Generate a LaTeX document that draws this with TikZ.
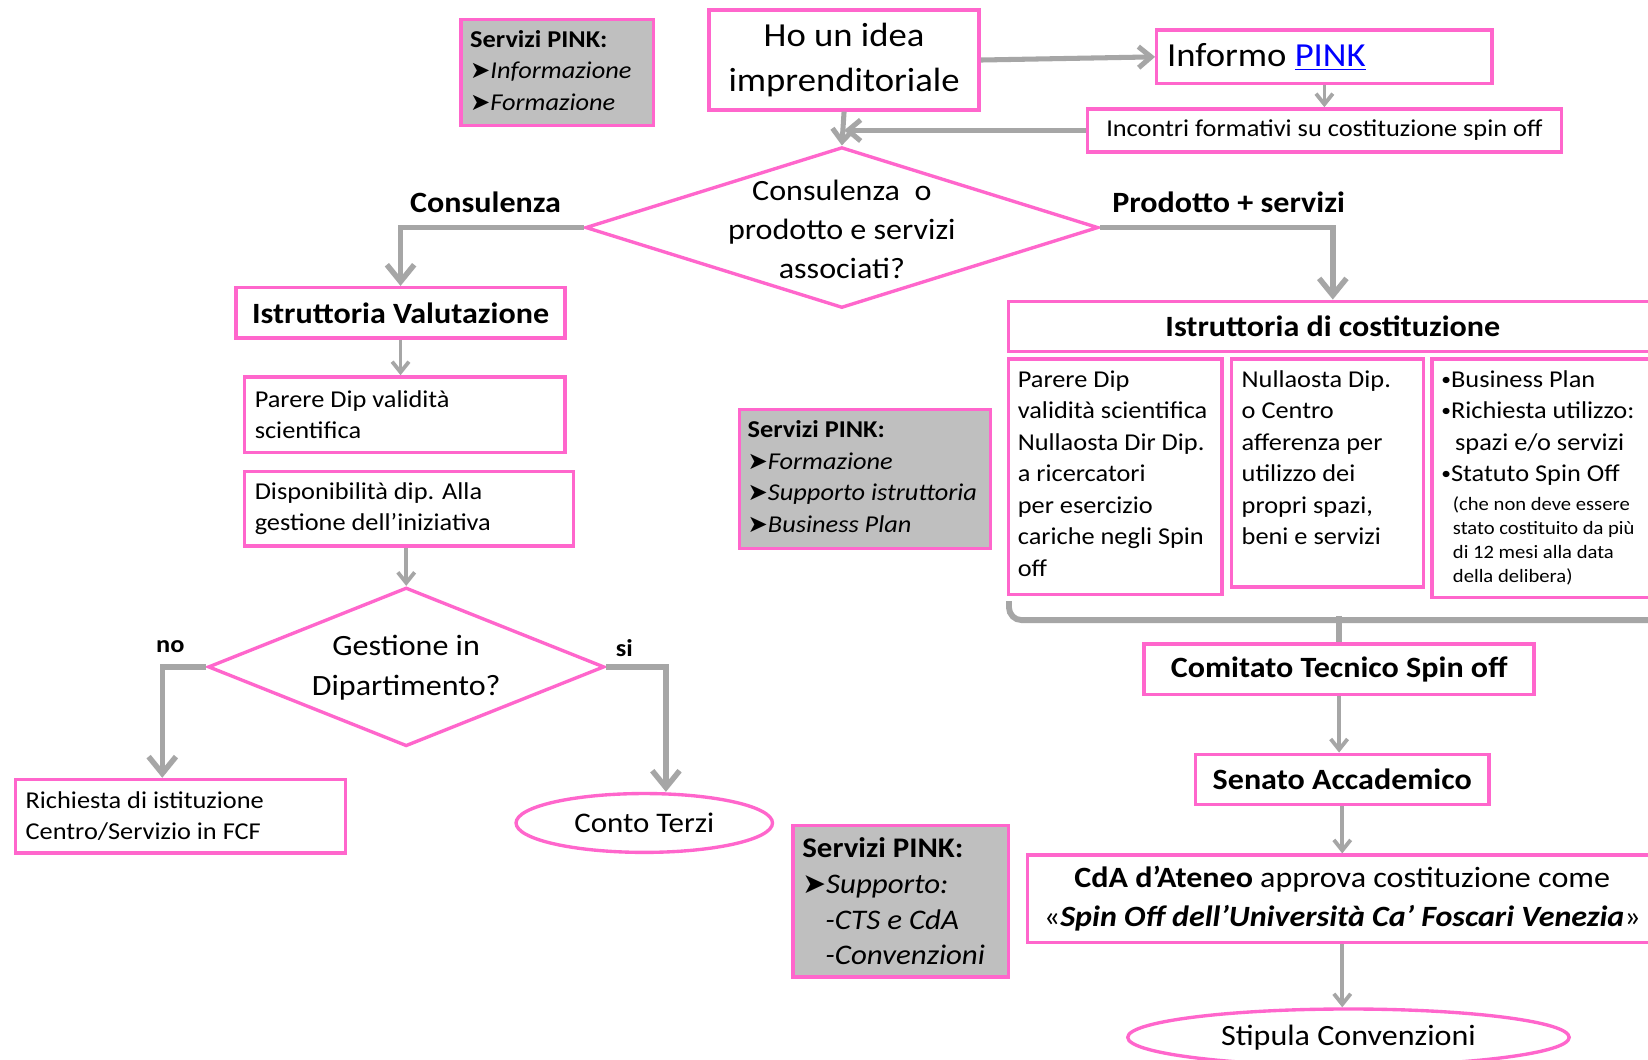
\documentclass[tikz,border=0pt]{standalone}
\usepackage{fontspec}
\setmainfont{Carlito}[FakeStretch=1.09]
\newfontfamily\dejavu[Scale=1.0]{DejaVu Sans}
\usetikzlibrary{shapes.geometric,arrows.meta,calc}
\definecolor{pinkc}{HTML}{FF66CC}
\definecolor{arrgray}{HTML}{A6A6A6}
\definecolor{boxgray}{HTML}{BFBFBF}
\newcommand{\tri}{{\dejavu ➤}}
\newcommand{\bul}{{\fontsize{8.5}{8.5}\selectfont\raisebox{0.9pt}{•}}}
\begin{document}
\begin{tikzpicture}[x=0.5pt,y=-0.5pt,
  box/.style={draw=pinkc,line width=1.6pt,fill=white,inner sep=0pt,anchor=north west},
  gbox/.style={box,fill=boxgray},
  txt/.style={inner sep=0pt,align=left,anchor=west},
  fs/.style={font=\fontsize{11.5}{15}\selectfont},
  fm/.style={font=\fontsize{14}{18.5}\selectfont},
  fb/.style={font=\bfseries\fontsize{14}{18}\selectfont},
  arrbig/.style={draw=arrgray,line width=2.6pt,-{Straight Barb[length=8pt,width=13pt]}},
  arrmid/.style={draw=arrgray,line width=2.4pt,-{Straight Barb[length=6pt,width=10pt]}},
  arrsmall/.style={draw=arrgray,line width=1.8pt,-{Straight Barb[length=5pt,width=8pt]}},
  brk/.style={draw=arrgray,line width=2.8pt,rounded corners=6pt},
]
\useasboundingbox (0,0) rectangle (1568,1008);
\clip (0,0) rectangle (1568,1008);
\fill[white] (0,0) rectangle (1568,1008);

% top-left services box
\node[gbox,minimum width=91.5pt,minimum height=50.5pt] (servA) at (437,17) {};
\node[txt,fs] (servAt) at ([xshift=5pt,yshift=1pt]servA.west) {\textbf{Servizi PINK:}\\\tri\textit{Informazione}\\\tri\textit{Formazione}};

% idea
\node[box,minimum width=128.5pt,minimum height=47.5pt,align=center,font=\fontsize{16}{21}\selectfont] (idea) at (673,8) {Ho un idea\\imprenditoriale};

% informo
\node[box,minimum width=159.5pt,minimum height=25.5pt] (informo) at (1099,27) {};
\node[txt,font=\fontsize{16}{20}\selectfont] (informot) at ([xshift=5.5pt]informo.west) {Informo \textcolor{blue}{\underline{PINK}}};

% incontri
\node[box,minimum width=225.5pt,minimum height=20.5pt,fs] (incontri) at (1033,102) {Incontri formativi su costituzione spin off};

% diamond 1
\node[draw=pinkc,line width=1.6pt,fill=white,diamond,minimum width=244pt,minimum height=76.5pt,inner sep=0pt] (d1) at (801,216.5) {};
\node[align=center,fm,inner sep=0pt] (d1t) at (801,218) {Consulenza\ \ o\\prodotto e servizi\\associati?};

\node[fb,inner sep=0pt] (lblCons) at (462,192) {Consulenza};
\node[fb,inner sep=0pt] (lblProd) at (1169,192) {Prodotto + servizi};

% left branch
\node[box,minimum width=156.5pt,minimum height=24pt,fb] (istrVal) at (223,272) {Istruttoria Valutazione};
\node[box,minimum width=152.5pt,minimum height=36pt] (parere1) at (231,357) {};
\node[txt,fs] (parere1t) at ([xshift=5.5pt]parere1.west) {Parere Dip validità\\scientifica};
\node[box,minimum width=156.5pt,minimum height=35.5pt] (dispon) at (231,447) {};
\node[txt,fs] (dispont) at ([xshift=5.5pt]dispon.west) {Disponibilità dip. Alla\\gestione dell’iniziativa};

\node[draw=pinkc,line width=1.6pt,fill=white,diamond,minimum width=188.5pt,minimum height=75.5pt,inner sep=0pt] (d2) at (386.5,634.5) {};
\node[align=center,font=\fontsize{14}{19}\selectfont,inner sep=0pt] (d2t) at (386.5,635) {Gestione in\\Dipartimento?};

\node[font=\bfseries\fontsize{11.5}{14}\selectfont,inner sep=0pt] (lblNo) at (162,615) {no};
\node[font=\bfseries\fontsize{11.5}{14}\selectfont,inner sep=0pt] (lblSi) at (594,617) {si};

\node[box,minimum width=157pt,minimum height=35pt] (richiesta) at (13,740) {};
\node[txt,fs] (richiestat) at ([xshift=5.5pt]richiesta.west) {Richiesta di istituzione\\Centro/Servizio in FCF};

\node[draw=pinkc,line width=1.6pt,ellipse,minimum width=122pt,minimum height=28pt,inner sep=0pt,font=\fontsize{13.5}{16}\selectfont] (conto) at (613,783) {Conto Terzi};

% middle services box
\node[gbox,minimum width=119.5pt,minimum height=66pt] (servB) at (702,388) {};
\node[txt,fs] (servBt) at ([xshift=4.5pt,yshift=1pt]servB.west) {\textbf{Servizi PINK:}\\\tri\textit{Formazione}\\\tri\textit{Supporto istruttoria}\\\tri\textit{Business Plan}};

% right branch
\node[box,minimum width=308.5pt,minimum height=24pt,fb] (istrCost) at (958,285) {Istruttoria di costituzione};

\node[box,minimum width=101.5pt,minimum height=112pt] (subA) at (958,340) {};
\node[txt,fs,anchor=north west] (subAt) at ([xshift=5pt,yshift=-6pt]subA.north west) {Parere Dip\\validità scientifica\\Nullaosta Dir Dip.\\a ricercatori\\per esercizio\\cariche negli Spin\\off};

\node[box,minimum width=91.5pt,minimum height=108.5pt] (subB) at (1170,340) {};
\node[txt,fs,anchor=north west] (subBt) at ([xshift=5.5pt,yshift=-6pt]subB.north west) {Nullaosta Dip.\\o Centro\\afferenza per\\utilizzo dei\\propri spazi,\\beni e servizi};

\node[box,minimum width=107pt,minimum height=113.5pt] (subC) at (1361,340) {};
\node[txt,fs,anchor=north west] (subCt) at ([xshift=5pt,yshift=-6pt]subC.north west) {\bul Business Plan\\\bul Richiesta utilizzo:\\\phantom{\bul}\,spazi e/o servizi\\\bul Statuto Spin Off};
\node[txt,anchor=north west,font=\fontsize{9}{11.5}\selectfont] (subCs) at ([xshift=10.5pt,yshift=-66pt]subC.north west) {(che non deve essere\\stato costituito da più\\di 12 mesi alla data\\della delibera)};

\node[box,minimum width=185.5pt,minimum height=24pt,fb] (comitato) at (1087,611) {Comitato Tecnico Spin off};
\node[box,minimum width=139.5pt,minimum height=24pt,fb] (senato) at (1136,716) {Senato Accademico};
\node[box,minimum width=299.5pt,minimum height=41.5pt,align=center,fm] (cda) at (976,812) {\textbf{CdA d’Ateneo} approva costituzione come\\«\textbf{\textit{Spin Off dell’Università Ca’ Foscari Venezia}}»};
\node[draw=pinkc,line width=1.6pt,fill=white,ellipse,minimum width=210pt,minimum height=27pt,inner sep=0pt,fm] (stipula) at (1283,987) {Stipula Convenzioni};

% bottom services box
\node[gbox,minimum width=102.5pt,minimum height=72pt] (servC) at (753,784) {};
\node[txt,font=\fontsize{13.5}{17}\selectfont] (servCt) at ([xshift=5pt]servC.west) {\textbf{Servizi PINK:}\\\tri\textit{Supporto:}\\\hspace*{11pt}\textit{-CTS e CdA}\\\hspace*{11pt}\textit{-Convenzioni}};

% connectors
\draw[arrmid] (idea.east) -- (informo.west);
\draw[arrsmall] (informo.south) -- (incontri.north);
\draw[arrmid] (incontri.west) -- (incontri.west -| idea.south);
\draw[arrmid] (idea.south) -- (d1.north);
\draw[arrbig] (d1.west) -| (istrVal.north);
\draw[arrbig] (d1.east) -| (istrCost.north);
\draw[arrsmall] (istrVal.south) -- (istrVal.south |- parere1.north);
\draw[arrsmall] (d2.north |- dispon.south) -- (d2.north);
\path (d2.west) ++(-42,0) coordinate (noTurn);
\path (d2.east) ++(57,0) coordinate (siTurn);
\draw[arrbig] (d2.west) -- (noTurn) -- (noTurn |- richiesta.north);
\draw[arrbig] (d2.east) -- (siTurn) -- (siTurn |- conto.north);

\path (comitato.north) ++(0,-21) coordinate (brM);
\coordinate (brL) at (960,572);
\coordinate (brR) at (1590,572);
\draw[brk] (brL) |- (brM) -| (brR);
\draw[draw=arrgray,line width=2.8pt] ([yshift=2pt]brM) -- (comitato.north);

\draw[arrsmall] (comitato.south) -- (comitato.south |- senato.north);
\draw[arrsmall] (senato.south) -- (senato.south |- cda.north);
\draw[arrsmall] (cda.south) -- (cda.south |- stipula.north);
\end{tikzpicture}
\end{document}
